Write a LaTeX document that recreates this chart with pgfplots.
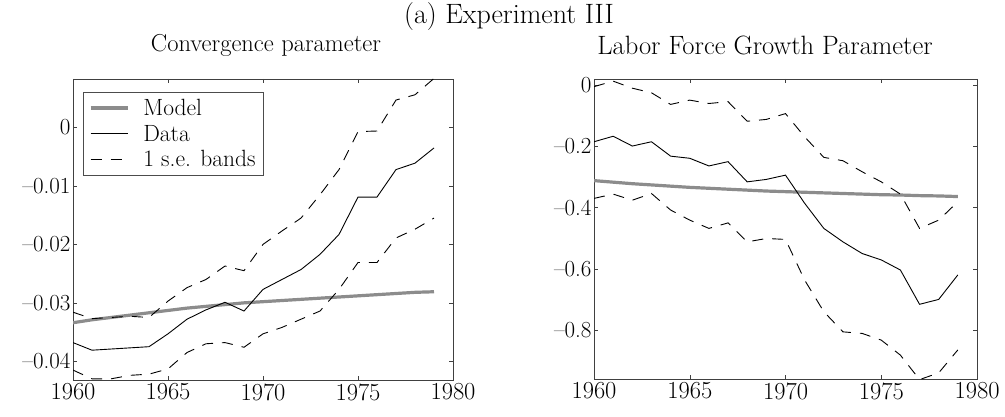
\documentclass[border=0pt]{standalone}
\usepackage{pgfplots}
\pgfplotsset{compat=1.18}
\begin{document}
\begin{tikzpicture}
\path[use as bounding box] (0pt,0pt) rectangle (1005pt,416pt);
\pgfplotsset{
 every axis/.append style={scale only axis, anchor=south west,
  axis line style={black!75, line width=0.6pt},
  tick style={black!75, line width=0.5pt}, major tick length=4pt,
  xticklabel style={font=\fontsize{24.5}{28}\selectfont},
  yticklabel style={font=\fontsize{23}{27}\selectfont, xshift=1pt},
  scaled y ticks=false,
  xmin=1960, xmax=1980, xtick={1960,1965,1970,1975,1980},
  xticklabels={1960,1965,1970,1975,1980}},
 model/.style={black!45, line width=3.2pt},
 datal/.style={black, line width=0.9pt},
 band/.style={black, line width=0.9pt, dash pattern=on 11pt off 9pt},
}
\node[font=\fontsize{28}{32}\selectfont] at (509pt,399pt) {(a) Experiment III};
\node[font=\fontsize{24.5}{28}\selectfont] at (266pt,371pt) {Convergence parameter};
\node[font=\fontsize{26.5}{30}\selectfont] at (765pt,371pt) {Labor Force Growth Parameter};
\begin{axis}[at={(73pt,36pt)}, width=380pt, height=301pt,
  ymin=-0.0432, ymax=0.0083, ytick={-0.04,-0.03,-0.02,-0.01,0},
  yticklabels={–0.04,–0.03,–0.02,–0.01,0},
  legend style={at={(0.026,0.957)}, anchor=north west, draw=black!70, line width=0.5pt,
    font=\fontsize{23.5}{27}\selectfont, inner xsep=6pt, inner ysep=5pt, row sep=4pt,
    cells={anchor=west}, /tikz/every odd column/.append style={column sep=12pt}},
  legend image code/.code={\draw[#1] (0pt,0pt) -- (37pt,0pt);}]
\addplot[model] coordinates {(1960,-0.0334)(1961,-0.0329)(1962,-0.0325)(1963,-0.0321)(1964,-0.0317)(1965,-0.0313)(1966,-0.0309)(1967,-0.0306)(1968,-0.0303)(1969,-0.0300)(1970,-0.0298)(1971,-0.0296)(1972,-0.0294)(1973,-0.0292)(1974,-0.0290)(1975,-0.0288)(1976,-0.0286)(1977,-0.0284)(1978,-0.0282)(1979,-0.0281)};
\addlegendentry{Model}
\addplot[datal] coordinates {(1960,-0.0368)(1961,-0.0381)(1962,-0.0379)(1963,-0.0377)(1964,-0.0375)(1965,-0.0353)(1966,-0.0328)(1967,-0.0312)(1968,-0.0299)(1969,-0.0314)(1970,-0.0277)(1971,-0.0260)(1972,-0.0243)(1973,-0.0217)(1974,-0.0183)(1975,-0.0119)(1976,-0.0119)(1977,-0.0072)(1978,-0.0061)(1979,-0.0035)};
\addlegendentry{Data}
\addplot[band] coordinates {(1960,-0.0316)(1961,-0.0327)(1962,-0.0325)(1963,-0.0323)(1964,-0.0325)(1965,-0.0297)(1966,-0.0274)(1967,-0.0260)(1968,-0.0237)(1969,-0.0245)(1970,-0.0200)(1971,-0.0177)(1972,-0.0155)(1973,-0.0115)(1974,-0.0072)(1975,-0.0007)(1976,-0.0006)(1977,0.0047)(1978,0.0056)(1979,0.0084)};
\addlegendentry{1 s.e. bands}
\addplot[band, forget plot] coordinates {(1960,-0.0415)(1961,-0.0430)(1962,-0.0430)(1963,-0.0424)(1964,-0.0422)(1965,-0.0413)(1966,-0.0385)(1967,-0.0370)(1968,-0.0368)(1969,-0.0376)(1970,-0.0353)(1971,-0.0342)(1972,-0.0328)(1973,-0.0314)(1974,-0.0277)(1975,-0.0231)(1976,-0.0231)(1977,-0.0189)(1978,-0.0174)(1979,-0.0155)};
\end{axis}
\begin{axis}[at={(594pt,37pt)}, width=383pt, height=300pt,
  ymin=-0.96, ymax=0.02, ytick={-0.8,-0.6,-0.4,-0.2,0},
  yticklabels={–0.8,–0.6,–0.4,–0.2,0}]
\addplot[model] coordinates {(1960,-0.312)(1961,-0.317)(1962,-0.322)(1963,-0.326)(1964,-0.330)(1965,-0.334)(1966,-0.337)(1967,-0.340)(1968,-0.343)(1969,-0.346)(1970,-0.348)(1971,-0.350)(1972,-0.352)(1973,-0.354)(1974,-0.356)(1975,-0.358)(1976,-0.359)(1977,-0.361)(1978,-0.362)(1979,-0.364)};
\addplot[datal] coordinates {(1960,-0.185)(1961,-0.167)(1962,-0.199)(1963,-0.185)(1964,-0.232)(1965,-0.239)(1966,-0.264)(1967,-0.250)(1968,-0.316)(1969,-0.308)(1970,-0.294)(1971,-0.386)(1972,-0.468)(1973,-0.512)(1974,-0.550)(1975,-0.571)(1976,-0.604)(1977,-0.716)(1978,-0.700)(1979,-0.620)};
\addplot[band] coordinates {(1960,-0.005)(1961,0.013)(1962,-0.010)(1963,-0.025)(1964,-0.063)(1965,-0.049)(1966,-0.060)(1967,-0.054)(1968,-0.118)(1969,-0.112)(1970,-0.093)(1971,-0.169)(1972,-0.236)(1973,-0.247)(1974,-0.283)(1975,-0.316)(1976,-0.356)(1977,-0.468)(1978,-0.441)(1979,-0.381)};
\addplot[band] coordinates {(1960,-0.370)(1961,-0.356)(1962,-0.376)(1963,-0.354)(1964,-0.408)(1965,-0.441)(1966,-0.468)(1967,-0.450)(1968,-0.512)(1969,-0.501)(1970,-0.504)(1971,-0.637)(1972,-0.740)(1973,-0.806)(1974,-0.811)(1975,-0.833)(1976,-0.882)(1977,-0.962)(1978,-0.940)(1979,-0.865)};
\end{axis}
\end{tikzpicture}
\end{document}
